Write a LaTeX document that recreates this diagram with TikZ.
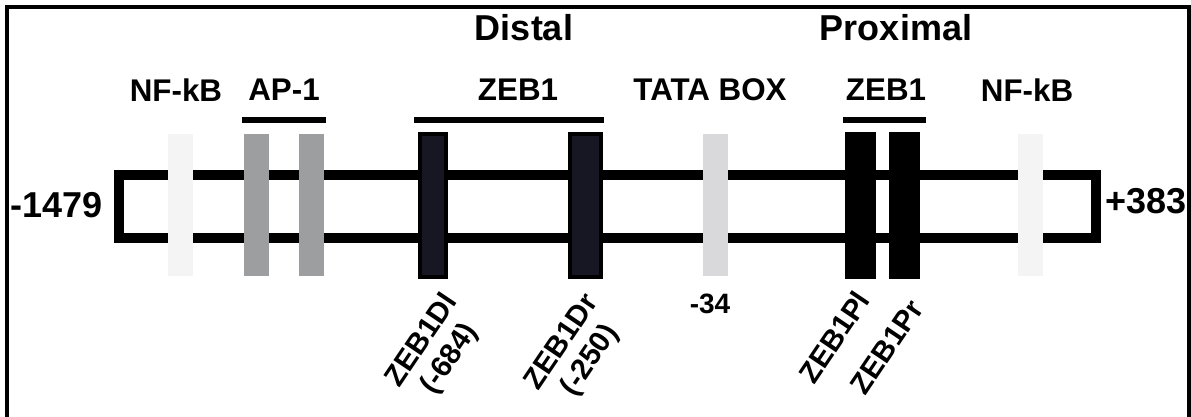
\documentclass[tikz,border=0pt]{standalone}
\usepackage{fontspec}
\setmainfont{Liberation Sans}
\definecolor{nfkbgrey}{HTML}{F4F4F4}
\definecolor{apgrey}{HTML}{9D9EA0}
\definecolor{tatagrey}{HTML}{D9D9DB}
\definecolor{zebnavy}{HTML}{171724}
\tikzset{
  lbl/.style={font=\bfseries\fontsize{23.5}{26}\selectfont, inner sep=0pt},
  biglbl/.style={font=\bfseries\fontsize{27}{29}\selectfont, inner sep=0pt},
  poslbl/.style={font=\bfseries\fontsize{21}{23}\selectfont, inner sep=0pt},
  sitelbl/.style={font=\bfseries\fontsize{22}{25}\selectfont, inner sep=0pt, rotate=56, align=center},
  groupbar/.style={line width=4.5pt},
}
\begin{document}
\begin{tikzpicture}[x=0.75pt, y=-0.75pt]
\useasboundingbox (0,0) rectangle (1191,417);
% outer frame (open at the bottom)
\draw[line width=3pt] (7,425) -- (7,7) -- (1189,7) -- (1189,425);

% promoter body
\draw[line width=7.5pt] (119,175) rectangle (1096,238);

% binding sites
\fill[nfkbgrey] (168,134) rectangle (193,276);
\fill[apgrey] (244,134) rectangle (269,276);
\fill[apgrey] (299,134) rectangle (324,276);
\filldraw[fill=zebnavy, draw=black, line width=3pt] (420,134) rectangle (446,277);
\filldraw[fill=zebnavy, draw=black, line width=3pt] (570,134) rectangle (601,277);
\fill[tatagrey] (703,134) rectangle (728,276);
\fill[black] (845,132) rectangle (876,279);
\fill[black] (889,132) rectangle (920,279);
\fill[nfkbgrey] (1018,134) rectangle (1043,276);

% group bars
\draw[groupbar] (242,120) -- (326,120);
\draw[groupbar] (414,120) -- (604,120);
\draw[groupbar] (843,120) -- (926,120);

% headings
\node[biglbl] (distal) at (524,28) {Distal};
\node[biglbl] (proximal) at (896,28) {Proximal};
\node[lbl] (nfkbL) at (176,90) {NF-kB};
\node[lbl] (ap1) at (284,90) {AP-1};
\node[lbl] (zebD) at (518,90) {ZEB1};
\node[lbl] (tata) at (710,90) {TATA BOX};
\node[lbl] (zebP) at (886,90) {ZEB1};
\node[lbl] (nfkbR) at (1027,90) {NF-kB};

% ends of the fragment
\node[biglbl] (start) at (57,205) {-1479};
\node[biglbl] (stop) at (1146,201) {+383};
\node[poslbl] (tss) at (710,304) {-34};

% site names
\node[sitelbl] (dl) at (436,350) {ZEB1Dl\\(-684)};
\node[sitelbl] (dr) at (577,352) {ZEB1Dr\\(-250)};
\node[sitelbl] (pl) at (834,337) {ZEB1Pl};
\node[sitelbl] (pr) at (887,347) {ZEB1Pr};
\end{tikzpicture}
\end{document}
